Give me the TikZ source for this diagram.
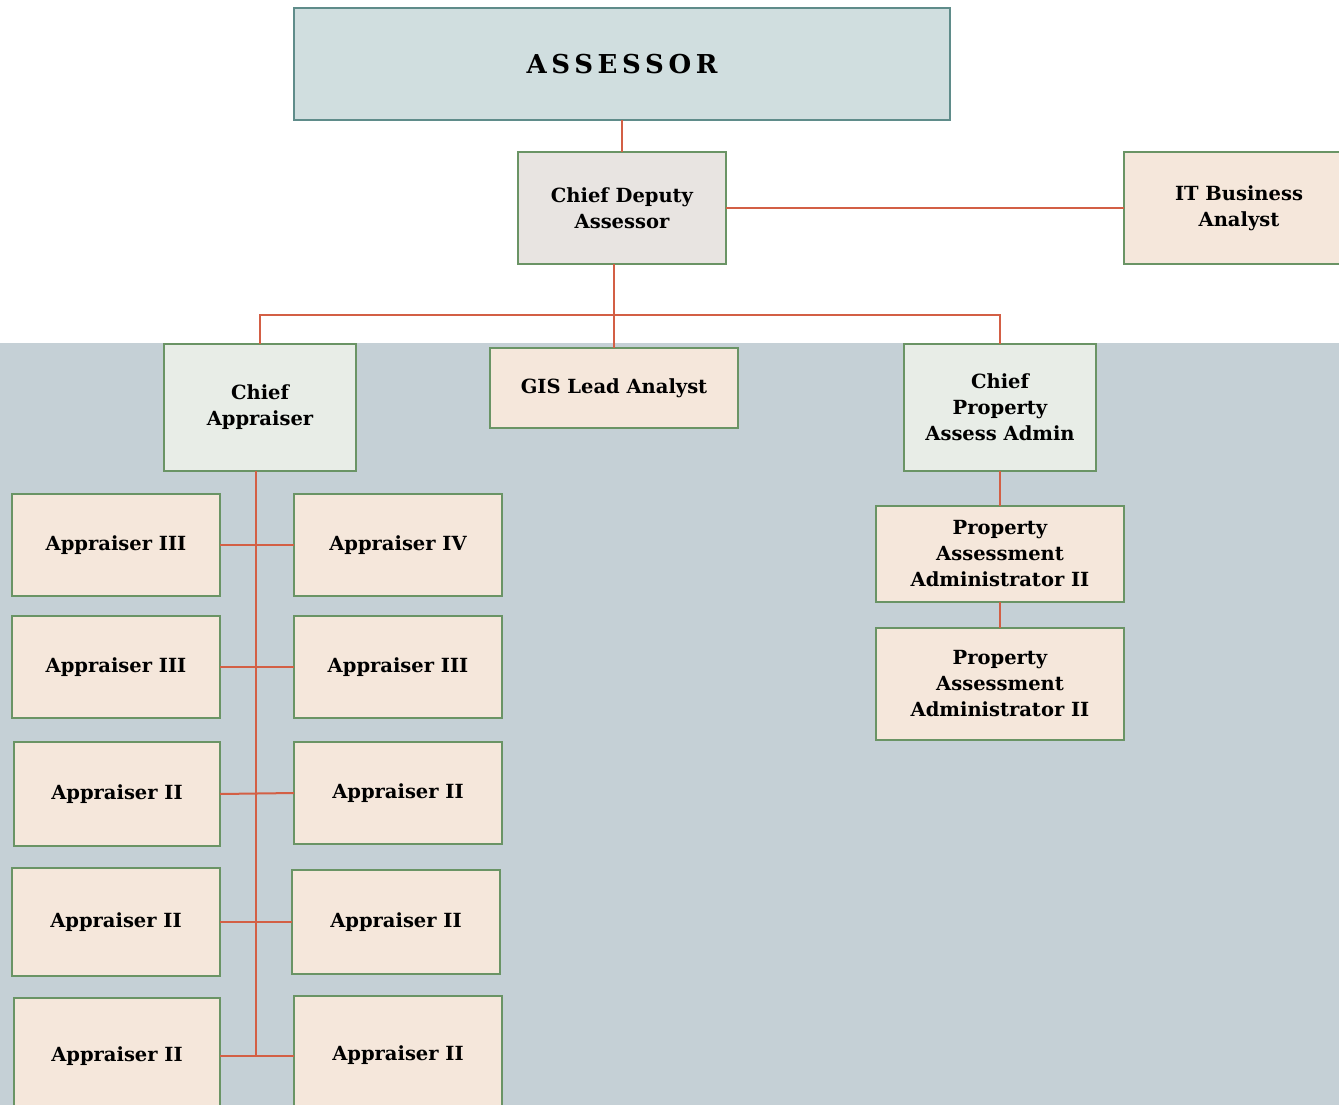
\documentclass[tikz,border=0pt]{standalone}
\usepackage{fontspec}
\setmainfont{DejaVu Serif}
\newfontfamily\titlefont[LetterSpace=18]{DejaVu Serif}
\definecolor{bgblue}{HTML}{C5D0D6}
\definecolor{assfill}{HTML}{D0DEDF}
\definecolor{assline}{HTML}{5F8C8A}
\definecolor{depfill}{HTML}{E8E4E1}
\definecolor{chieffill}{HTML}{E8EDE7}
\definecolor{peach}{HTML}{F5E7DB}
\definecolor{gline}{HTML}{6A9465}
\definecolor{redline}{HTML}{D35F45}
\tikzset{
  box/.style={draw=gline, line width=2.2pt, rectangle, inner sep=0pt, outer sep=0pt,
    align=center, font=\fontsize{19.5}{26}\selectfont\bfseries},
  peachbox/.style={box, fill=peach},
  chiefbox/.style={box, fill=chieffill},
  conn/.style={draw=redline, line width=2pt},
}
\begin{document}
\begin{tikzpicture}[x=1pt,y=-1pt]
\useasboundingbox (0,0) rectangle (1339,1105);
\begin{scope}
\clip (0,0) rectangle (1339,1105);
\fill[bgblue] (0,343) rectangle (1339,1105);
% nodes
\node[box, draw=assline, fill=assfill, minimum width=656, minimum height=112, font=\fontsize{26}{30}\selectfont\bfseries\titlefont] (ass) at (622,64) {ASSESSOR};
\node[box, fill=depfill, minimum width=208, minimum height=112] (dep) at (622,208) {Chief Deputy\\Assessor};
\node[peachbox, minimum width=230, minimum height=112] (it) at (1239,208) {IT Business\\Analyst};
\node[chiefbox, minimum width=192, minimum height=127] (ca) at (260,407.5) {Chief\\Appraiser};
\node[peachbox, minimum width=248, minimum height=80] (gis) at (614,388) {GIS Lead Analyst};
\node[chiefbox, minimum width=192, minimum height=127] (cp) at (1000,407.5) {Chief\\Property\\Assess Admin};
\node[peachbox, minimum width=248, minimum height=96] (pa1) at (1000,554) {Property\\Assessment\\Administrator II};
\node[peachbox, minimum width=248, minimum height=112] (pa2) at (1000,684) {Property\\Assessment\\Administrator II};
% appraisers
\node[peachbox, minimum width=208, minimum height=102] (l1) at (116,545) {Appraiser III};
\node[peachbox, minimum width=208, minimum height=102] (r1) at (398,545) {Appraiser IV};
\node[peachbox, minimum width=208, minimum height=102] (l2) at (116,667) {Appraiser III};
\node[peachbox, minimum width=208, minimum height=102] (r2) at (398,667) {Appraiser III};
\node[peachbox, minimum width=206, minimum height=104] (l3) at (117,794) {Appraiser II};
\node[peachbox, minimum width=208, minimum height=102] (r3) at (398,793) {Appraiser II};
\node[peachbox, minimum width=208, minimum height=108] (l4) at (116,922) {Appraiser II};
\node[peachbox, minimum width=208, minimum height=104] (r4) at (396,922) {Appraiser II};
\node[peachbox, minimum width=206, minimum height=116] (l5) at (117,1056) {Appraiser II};
\node[peachbox, minimum width=208, minimum height=118] (r5) at (398,1055) {Appraiser II};
% connectors
\coordinate (bus) at (614,315);
\coordinate (trunk) at (256,0);
\draw[conn] (ass.south) -- (dep.north);
\draw[conn] (dep.east) -- (it.west);
\draw[conn] (dep.south -| gis.north) -- (gis.north);
\draw[conn] (ca.north) |- (bus) -| (cp.north);
\draw[conn] (ca.south -| trunk) -- (l5.east -| trunk);
\draw[conn] (l1.east) -- (r1.west);
\draw[conn] (l2.east) -- (r2.west);
\draw[conn] (l3.east) -- (r3.west);
\draw[conn] (l4.east) -- (r4.west);
\draw[conn] (l5.east) -- (l5.east -| r5.west);
\draw[conn] (cp.south) -- (pa1.north);
\draw[conn] (pa1.south) -- (pa2.north);
\end{scope}
\end{tikzpicture}
\end{document}
